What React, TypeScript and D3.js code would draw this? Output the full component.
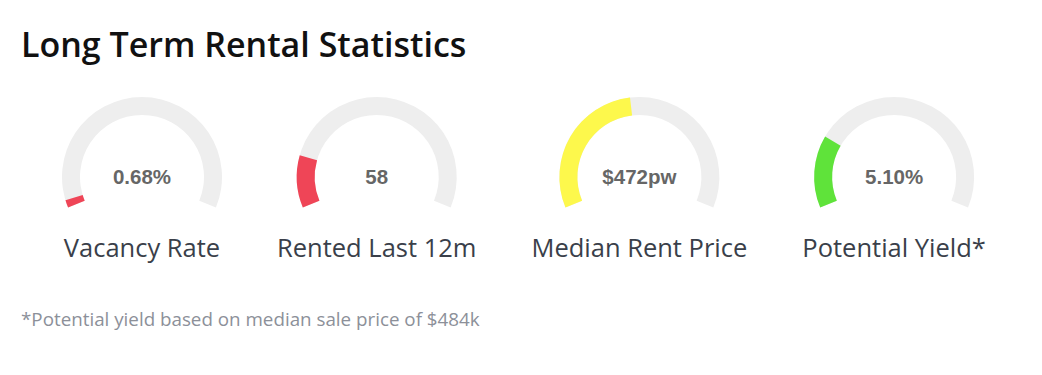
import React, { useEffect, useRef } from 'react';
import * as d3 from 'd3';

// gauge data
const labels = ['Vacancy Rate', 'Rented Last 12m', 'Median Rent Price', 'Potential Yield*'];
const valueTexts = ['0.68%', '58', '$472pw', '5.10%'];
const fillShare = [0.025, 0.17, 0.47, 0.235];
const fillColors = ['#ef4557', '#ef4557', '#fdf84c', '#5fe33a'];

const title = 'Long Term Rental Statistics';
const footnote = '*Potential yield based on median sale price of $484k';

const width = 1042;
const height = 375;
const uiFont = "'Open Sans', 'Noto Sans', sans-serif";

export default function App() {
  const ref = useRef<SVGSVGElement>(null);

  useEffect(() => {
    const svg = d3.select(ref.current);
    svg.selectAll('*').remove();

    svg.append('text')
      .attr('x', 21)
      .attr('y', 57)
      .attr('font-family', uiFont)
      .attr('font-size', 34)
      .attr('font-weight', 600)
      .attr('fill', '#111')
      .text(title);

    svg.append('text')
      .attr('x', 21)
      .attr('y', 326)
      .attr('font-family', uiFont)
      .attr('font-size', 18.8)
      .attr('fill', '#8c9099')
      .text(footnote);

    const outerR = 80;
    const innerR = 62;
    const cy = 177;
    const angle = d3.scaleLinear().domain([0, 1]).range([-0.625 * Math.PI, 0.625 * Math.PI]);
    const arc = d3.arc<any>().innerRadius(innerR).outerRadius(outerR);

    // lay items out like inline blocks: each as wide as its label (or gauge)
    let x = 62;
    const gap = 55;
    labels.forEach((label, i) => {
      const g = svg.append('g');
      const lab = g.append('text')
        .attr('y', 257)
        .attr('text-anchor', 'middle')
        .attr('font-family', uiFont)
        .attr('font-size', 25.5)
        .attr('fill', '#3a3f4a')
        .text(label);
      const w = Math.max((lab.node() as SVGTextElement).getComputedTextLength(), outerR * 2);
      const cx = x + w / 2;
      x += w + gap;
      lab.attr('x', cx);

      const gauge = g.append('g').attr('transform', `translate(${cx},${cy})`);
      gauge.append('path')
        .attr('d', arc({ startAngle: angle(0), endAngle: angle(1) }))
        .attr('fill', '#eeeeee');
      gauge.append('path')
        .attr('d', arc({ startAngle: angle(0), endAngle: angle(fillShare[i]) }))
        .attr('fill', fillColors[i]);
      gauge.append('text')
        .attr('text-anchor', 'middle')
        .attr('dy', '0.35em')
        .attr('font-family', "'Liberation Sans', Arial, sans-serif")
        .attr('font-weight', 'bold')
        .attr('font-size', 20.5)
        .attr('fill', '#666')
        .text(valueTexts[i]);
    });
  }, []);

  return (
    <svg ref={ref} width={width} height={height}
      style={{ position: 'absolute', left: 0, top: 0, background: '#fff' }} />
  );
}
